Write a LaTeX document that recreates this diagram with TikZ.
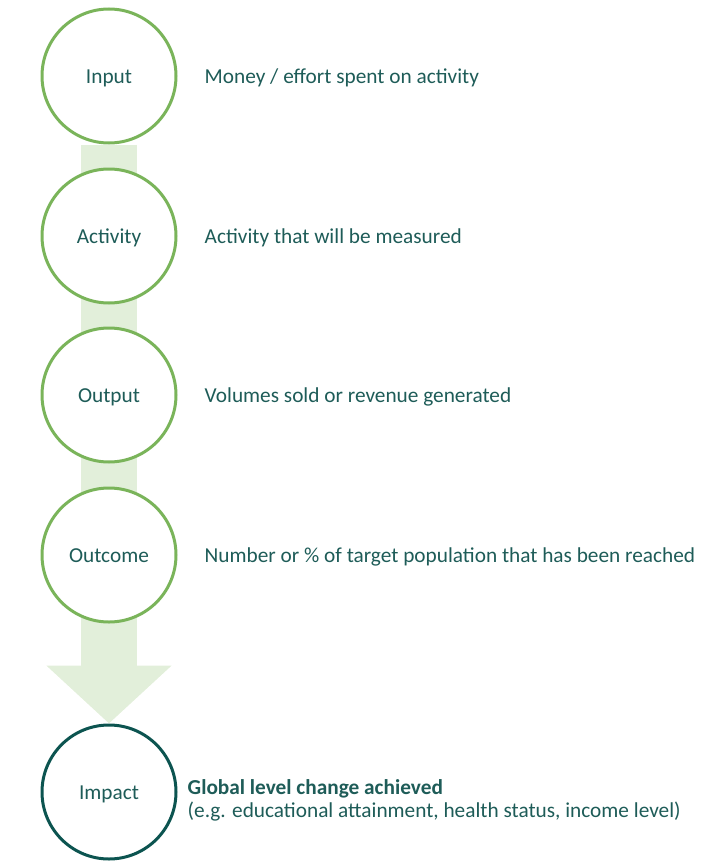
\documentclass[tikz,border=0pt]{standalone}
\usepackage{fontspec}
\setmainfont{Carlito}
\usetikzlibrary{arrows.meta,positioning,backgrounds}

\definecolor{stagegreen}{RGB}{122,180,90}
\definecolor{flowgreen}{RGB}{226,239,218}
\definecolor{impactteal}{RGB}{12,84,80}
\definecolor{labelteal}{RGB}{30,92,88}

\begin{document}
\begin{tikzpicture}[
		node distance = 27pt,
		every node/.style={font=\fontsize{21.3}{23}\selectfont, text=labelteal},
		stage/.style={
				draw=stagegreen,
				circle,
				fill=white,
				line width=3pt,
				minimum size=134pt,
				inner sep=0pt,
				text height=15pt,
				text depth=0pt
		},
		desc/.style={anchor=west, align=left, inner sep=0pt, text height=15pt, text depth=0pt},
		flow/.style={
				draw=flowgreen,
				line width=56pt,
				-{Triangle[length=58pt,width=122pt]}
		}
	]

	\useasboundingbox (0,0) rectangle (715pt,-867pt);

	% Stages of the chain
	\node[stage] (input)    at (109pt,-76pt)  {Input};
	\node[stage] (activity) at (109pt,-236pt) {Activity};
	\node[stage] (output)   at (109pt,-395pt) {Output};
	\node[stage] (outcome)  at (109pt,-555pt) {Outcome};
	\node[stage, draw=impactteal] (impact) at (109pt,-792pt) {Impact};

	% Descriptions
	\node[desc, right=of input]    (inputtxt)    {Money / effort spent on activity};
	\node[desc, right=of activity] (activitytxt) {Activity that will be measured};
	\node[desc, right=of output]   (outputtxt)   {Volumes sold or revenue generated};
	\node[desc, right=of outcome]  (outcometxt)  {Number or \% of target population that has been reached};
	\node[desc, right=10pt of impact, yshift=-18pt] (impacttxt)
		{\textbf{Global level change achieved}\\(e.g. educational attainment, health status, income level)};

	% Big arrow behind the circles
	\begin{pgfonlayer}{background}
		\draw[flow] (input.south) -- (impact.north);
	\end{pgfonlayer}

\end{tikzpicture}
\end{document}
